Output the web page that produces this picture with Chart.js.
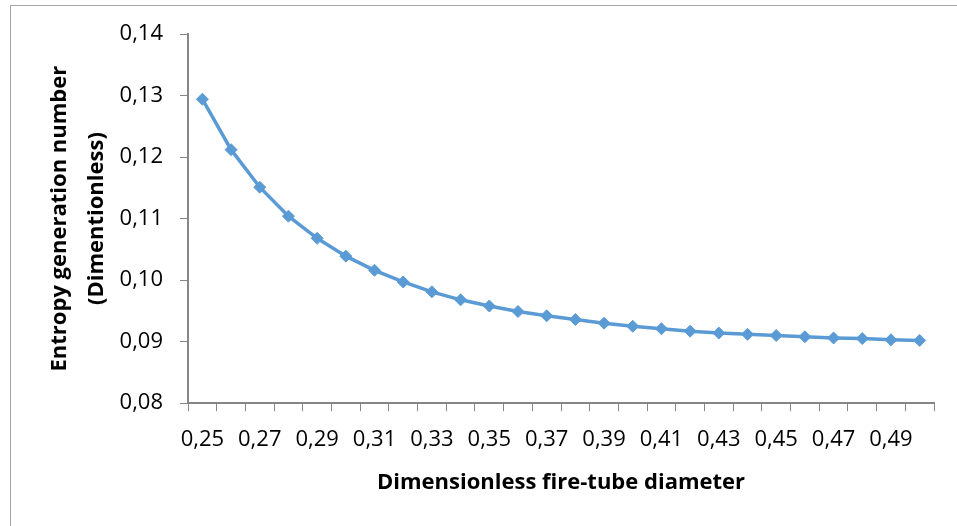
<!DOCTYPE html>
<html>
<head>
<meta charset="utf-8">
<script src="https://cdn.jsdelivr.net/npm/chart.js@4/dist/chart.umd.min.js"></script>
<style>
  html, body { margin: 0; padding: 0; background: #fff; }
  #wrap { position: relative; width: 957px; height: 526px; overflow: hidden; }
  #frame { position: absolute; left: 10px; top: 5px; right: -5px; bottom: -5px; border-left: 1px solid #a6a6a6; border-top: 1px solid #a6a6a6; }
</style>
</head>
<body>
<div id="wrap">
  <div id="frame"></div>
  <canvas id="myChart" width="957" height="526"></canvas>
</div>
<script>
// dimensionless fire-tube diameter, 0.25 .. 0.50
const diameters = ['0,25', '0,26', '0,27', '0,28', '0,29', '0,30', '0,31', '0,32', '0,33', '0,34',
  '0,35', '0,36', '0,37', '0,38', '0,39', '0,40', '0,41', '0,42', '0,43', '0,44',
  '0,45', '0,46', '0,47', '0,48', '0,49', '0,50']
// entropy generation number
const entropy = [0.1294, 0.1212, 0.1151, 0.1104, 0.1068, 0.1039, 0.1016, 0.0997, 0.0981, 0.0968,
  0.0958, 0.0949, 0.0942, 0.0936, 0.0930, 0.0925, 0.0921, 0.0917, 0.0914, 0.0912,
  0.0910, 0.0908, 0.0906, 0.0905, 0.0903, 0.0902]
const yTicks = [0.08, 0.09, 0.10, 0.11, 0.12, 0.13, 0.14]

const blue = '#5b9bd5'
const axisGray = '#868686'
const font = 'Open Sans'

new Chart(document.getElementById('myChart'), {
  type: 'line',
  data: {
    labels: diameters,
    datasets: [{
      data: entropy,
      borderColor: blue,
      backgroundColor: blue,
      borderWidth: 3.5,
      pointStyle: 'rectRot',
      pointRadius: 6,
      pointBorderWidth: 1,
      pointBackgroundColor: blue,
      pointBorderColor: blue,
      tension: 0,
      fill: false
    }]
  },
  options: {
    responsive: false,
    animation: false,
    layout: { padding: { left: 16, top: 34, right: 23, bottom: 30 } },
    plugins: { legend: { display: false }, tooltip: { enabled: false } },
    scales: {
      x: {
        offset: true,
        grid: { offset: true, drawOnChartArea: false, tickLength: 8, color: axisGray, lineWidth: 1 },
        border: { color: axisGray, width: 2 },
        ticks: {
          autoSkip: false, maxRotation: 0, padding: 15, color: '#000',
          font: { family: font, size: 22 },
          callback: (v, i) => i % 2 === 0 ? diameters[i] : ''
        },
        title: {
          display: true, text: 'Dimensionless fire-tube diameter', color: '#000',
          font: { family: font, size: 22, weight: 'bold' },
          padding: { top: 2, bottom: 0 }
        }
      },
      y: {
        min: yTicks[0], max: yTicks[yTicks.length - 1],
        afterBuildTicks: axis => { axis.ticks = yTicks.map(v => ({ value: v })) },
        grid: { drawOnChartArea: false, tickLength: 8, color: axisGray, lineWidth: 1 },
        border: { color: axisGray, width: 2 },
        ticks: {
          padding: 17, color: '#000',
          font: { family: font, size: 22 },
          callback: v => v.toFixed(2).replace('.', ',')
        },
        title: {
          display: true, text: ['Entropy generation number', '(Dimentionless)'], color: '#000',
          font: { family: font, size: 22, weight: 'bold', lineHeight: 1.65 },
          padding: { top: 26, bottom: -12 }
        }
      }
    }
  }
})
</script>
</body>
</html>
